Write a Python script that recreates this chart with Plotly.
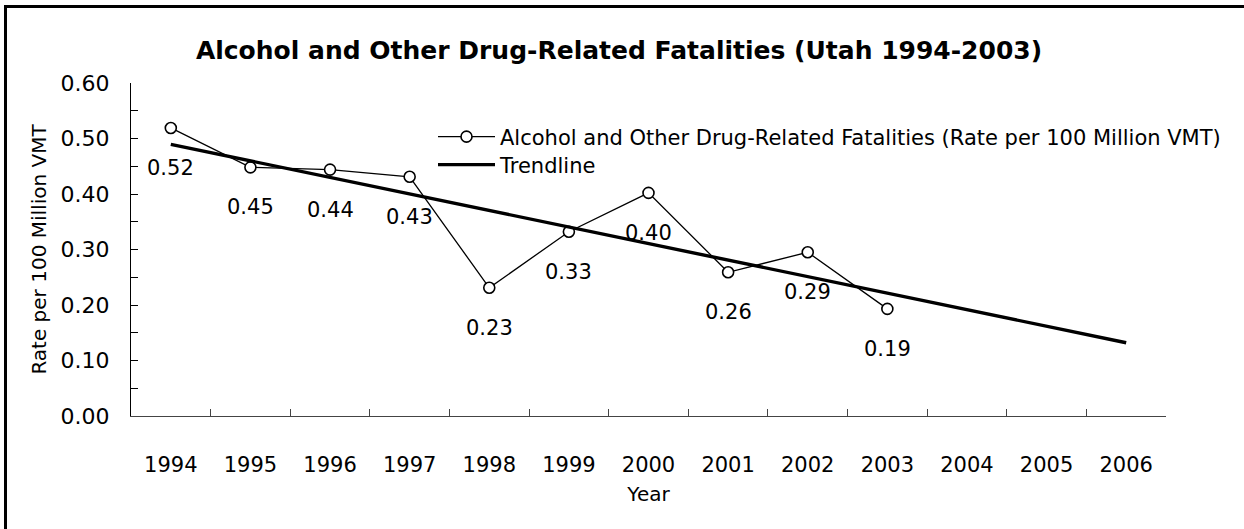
import numpy as np
import plotly.graph_objects as go

years = ["1994", "1995", "1996", "1997", "1998", "1999", "2000", "2001", "2002", "2003", "2004", "2005", "2006"]
data_years = years[:10]
rates = [0.519, 0.448, 0.444, 0.431, 0.231, 0.332, 0.402, 0.259, 0.295, 0.193]
labels = ["0.52", "0.45", "0.44", "0.43", "0.23", "0.33", "0.40", "0.26", "0.29", "0.19"]
y_ticks = [0.0, 0.1, 0.2, 0.3, 0.4, 0.5, 0.6]

# Linear trendline fitted to the data, extended to 2006
xi = np.arange(len(rates))
slope, intercept = np.polyfit(xi, rates, 1)
trend = [intercept + slope * i for i in range(len(years))]

FONT = "DejaVu Sans"
W, H = 1244, 529
L, R, T, B = 131, 78, 83, 113
pw, ph = W - L - R, H - T - B

def px(x):
    return (x - L) / pw

def py(y):
    return (H - B - y) / ph

fig = go.Figure()
fig.add_trace(go.Scatter(
    x=data_years, y=rates, mode="lines+markers",
    name="Alcohol and Other Drug-Related Fatalities (Rate per 100 Million VMT)",
    line=dict(color="black", width=1.3),
    marker=dict(symbol="circle", size=11, color="white", line=dict(color="black", width=1.6)),
    legend="legend",
))
fig.add_trace(go.Scatter(
    x=years, y=trend, mode="lines", name="Trendline",
    line=dict(color="black", width=3.4),
    legend="legend2",
))

# Data labels placed below each point (category index on the x axis)
for xv, yv, t in zip(data_years, rates, labels):
    fig.add_annotation(x=years.index(xv), y=yv, text=t, showarrow=False, yshift=-40,
                       xanchor="center", yanchor="middle",
                       font=dict(family=FONT, size=21, color="black"))

leg_common = dict(xanchor="left", yanchor="middle", bgcolor="rgba(0,0,0,0)",
                  font=dict(family=FONT, size=21, color="black"),
                  itemwidth=57, borderwidth=0)

fig.update_layout(
    width=W, height=H,
    margin=dict(l=L, r=R, t=T, b=B),
    paper_bgcolor="white", plot_bgcolor="white",
    font=dict(family=FONT, color="black"),
    title=dict(text="<b>Alcohol and Other Drug-Related Fatalities (Utah 1994-2003)</b>",
               x=619 / W, xref="container", xanchor="center", y=1 - 50 / H, yanchor="middle",
               font=dict(family=FONT, size=25, color="black")),
    showlegend=True,
    legend=dict(x=px(433), y=py(137), **leg_common),
    legend2=dict(x=px(433), y=py(165), **leg_common),
    xaxis=dict(type="category", categoryorder="array", categoryarray=years,
               range=[-0.5, len(years) - 0.5],
               showline=True, linecolor="#444", linewidth=1.2,
               ticks="inside", tickson="boundaries", ticklen=7, tickcolor="#444",
               showgrid=False, zeroline=False, ticklabelstandoff=30,
               tickfont=dict(family=FONT, size=21, color="black"),
               title=dict(text="Year", font=dict(family=FONT, size=20, color="black"), standoff=10)),
    yaxis=dict(range=[0, 0.6], tickvals=y_ticks, tickformat=".2f",
               showline=True, linecolor="black", linewidth=1.2,
               ticks="inside", ticklen=7, tickcolor="black",
               minor=dict(dtick=0.05, ticks="inside", ticklen=7, tickcolor="black"),
               showgrid=False, zeroline=False, ticklabelstandoff=16,
               tickfont=dict(family=FONT, size=22, color="black"),
               title=dict(text="Rate per 100 Million VMT", font=dict(family=FONT, size=20, color="black"),
                          standoff=8)),
)

# Frame lines along the top and left edges of the image
fig.add_shape(type="line", xref="paper", yref="paper",
              x0=px(5.5), x1=px(W + 5), y0=py(6.5), y1=py(6.5),
              line=dict(color="black", width=3))
fig.add_shape(type="line", xref="paper", yref="paper",
              x0=px(5.5), x1=px(5.5), y0=py(5), y1=py(H + 5),
              line=dict(color="black", width=3))

fig.write_html("out.html", config={"displayModeBar": False},
               post_script="document.body.style.margin='0';")
